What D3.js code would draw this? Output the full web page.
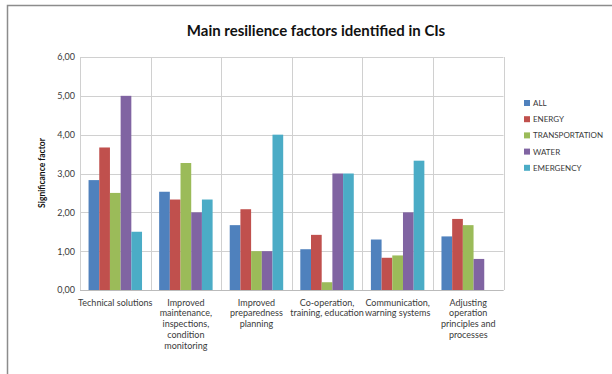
<!DOCTYPE html>
<html><head><meta charset="utf-8">
<script src="https://cdn.jsdelivr.net/npm/d3@7"></script>
<style>body{margin:0;background:#fff}svg{display:block}text{font-family:Lato,"Open Sans",sans-serif;fill:#3a3a3a}</style>
</head><body><svg id="c" width="612" height="374"></svg>
<script>
const categories = [
  ["Technical solutions"],
  ["Improved","maintenance,","inspections,","condition","monitoring"],
  ["Improved","preparedness","planning"],
  ["Co-operation,","training, education"],
  ["Communication,","warning systems"],
  ["Adjusting","operation","principles and","processes"]
];
const seriesNames = ["ALL","ENERGY","TRANSPORTATION","WATER","EMERGENCY"];
const colors = ["#4F81BD","#C0504D","#9BBB59","#8064A2","#4BACC6"];
const ALL = [2.83,2.53,1.67,1.05,1.3,1.38];
const ENERGY = [3.67,2.33,2.08,1.42,0.83,1.83];
const TRANSPORTATION = [2.5,3.27,1.0,0.2,0.89,1.67];
const WATER = [5.0,2.0,1.0,3.0,2.0,0.8];
const EMERGENCY = [1.5,2.33,4.0,3.0,3.33,0];
const yTicks = [0,1,2,3,4,5,6];
const series = [ALL,ENERGY,TRANSPORTATION,WATER,EMERGENCY];

const svg = d3.select("#c");
// frame
svg.append("path").attr("d","M7.5,374V5.5H612").attr("fill","none").attr("stroke","#8c8c8c").attr("stroke-width",1.5);

const L=80,R=503.5,T=57,B=290;
const x0 = d3.scaleBand().domain(d3.range(categories.length)).range([L,R]);
const x1 = d3.scaleBand().domain(d3.range(series.length)).range([0,x0.bandwidth()]).paddingOuter(0.8).paddingInner(0);
const y = d3.scaleLinear().domain([0,6]).range([B,T]);

// gridlines
svg.append("g").selectAll("line").data(yTicks).join("line")
  .attr("x1",L).attr("x2",R).attr("y1",d=>Math.round(y(d))+0.5).attr("y2",d=>Math.round(y(d))+0.5)
  .attr("stroke","#d0d0d0");
svg.append("g").selectAll("line").data(d3.range(categories.length+1)).join("line")
  .attr("x1",d=>Math.round(L+d*x0.step())+0.5).attr("x2",d=>Math.round(L+d*x0.step())+0.5)
  .attr("y1",T).attr("y2",B).attr("stroke","#d0d0d0");

// bars
const g = svg.append("g");
series.forEach((vals,si)=>{
  g.selectAll(null).data(vals).join("rect")
    .attr("x",(d,i)=>x0(i)+x1(si))
    .attr("width",x1.bandwidth())
    .attr("y",d=>y(d)).attr("height",d=>B-y(d))
    .attr("fill",colors[si]);
});

// y axis
const ya = svg.append("g").attr("transform",`translate(${L},0)`)
  .call(d3.axisLeft(y).tickValues(yTicks).tickSize(0).tickPadding(5).tickFormat(d=>d3.format(".2f")(d).replace(".",",")));
ya.select(".domain").remove();
ya.selectAll("text").attr("font-size","9px").style("font-family","Lato,sans-serif").attr("fill","#3a3a3a");
svg.append("line").attr("x1",L).attr("x2",R).attr("y1",B+0.5).attr("y2",B+0.5).attr("stroke","#bbb");

// category labels
categories.forEach((lines,i)=>{
  const t = svg.append("text").attr("text-anchor","middle").attr("font-size","9px")
    .attr("x",x0(i)+x0.bandwidth()/2).attr("y",305.5);
  lines.forEach((ln,j)=>t.append("tspan").attr("x",x0(i)+x0.bandwidth()/2).attr("dy",j?10.8:0).text(ln));
});

// title
svg.append("text").attr("x",316).attr("y",36).attr("text-anchor","middle").style("fill","#111")
  .attr("font-size","15px").attr("font-weight","bold").text("Main resilience factors identified in CIs");
// y label
svg.append("text").attr("transform","translate(45,173) rotate(-90)").attr("text-anchor","middle").style("fill","#111")
  .attr("font-size","8.5px").attr("font-weight","bold").text("Significance factor");

// legend
const lg = svg.append("g");
seriesNames.forEach((n,i)=>{
  const yy = 103 + i*16.2;
  lg.append("rect").attr("x",524).attr("y",yy-3).attr("width",6).attr("height",6).attr("fill",colors[i]);
  lg.append("text").attr("x",533).attr("y",yy+3).attr("font-size","8px").text(n);
});
</script></body></html>
